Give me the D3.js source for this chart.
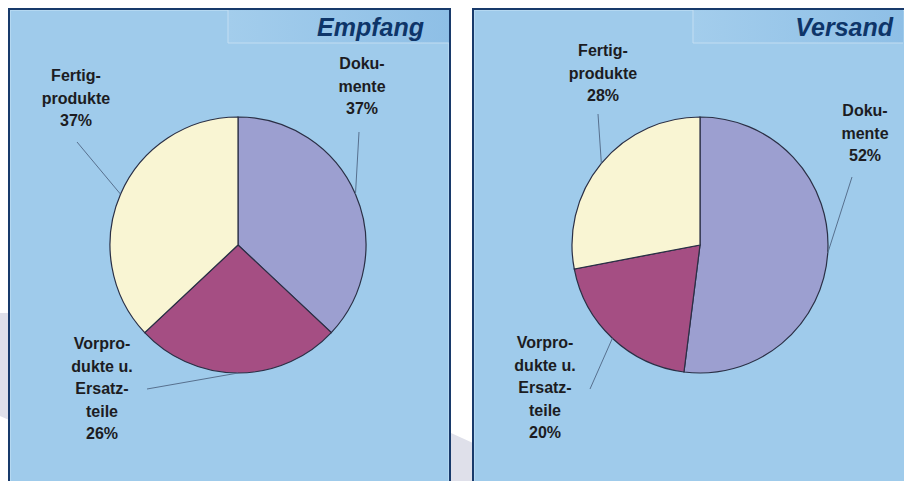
<!DOCTYPE html>
<meta charset="utf-8">
<style>
body { margin: 0; background: #fff; overflow: hidden; }
svg { display: block; }
text { font-family: "Liberation Sans", Arial, sans-serif; }
.label { font-size: 16px; font-weight: bold; fill: #1c1c22; }
.title { font-size: 25px; font-weight: bold; font-style: italic; fill: #0e3569; }
.leader { stroke: #57708e; stroke-width: 1; fill: none; }
.slice { stroke: #2a2f45; stroke-width: 1.2; }
</style>
<body>
<div id="chart"></div>
<script src="https://d3js.org/d3.v7.min.js"></script>
<script>

// data
const categories = ["Dokumente", "Vorprodukte u. Ersatzteile", "Fertigprodukte"];
const labelLines = [["Doku-", "mente"], ["Vorpro-", "dukte u.", "Ersatz-", "teile"], ["Fertig-", "produkte"]];
const titles = ["Empfang", "Versand"];
const empfangValues = [37, 26, 37];
const versandValues = [52, 20, 28];
const colors = ["#9c9fd0", "#a54e83", "#f9f5d3"];

// layout of the two panels (label offsets are relative to the pie centre)
const panels = [
  {title: titles[0], values: empfangValues, x0: 9, x1: 450, tab: 228, cx: 238, cy: 245, titleEnd: 424,
   labels: [{dx: 124, dy: -182, lx: 121, ly: -113},
            {dx: -136, dy: 98, lx: -91, ly: 144},
            {dx: -162, dy: -170, lx: -161, ly: -103}]},
  {title: titles[1], values: versandValues, x0: 473, x1: 920, tab: 693, cx: 700, cy: 245, titleEnd: 893,
   labels: [{dx: 165, dy: -135, lx: 152, ly: -68},
            {dx: -155, dy: 97, lx: -110, ly: 144},
            {dx: -97, dy: -195, lx: -102, ly: -131}]}
];

var width = 904, height = 481, radius = 128;

var svg = d3.select("#chart").append("svg")
    .attr("width", width)
    .attr("height", height);

var defs = svg.append("defs");
var grad = defs.append("linearGradient").attr("id", "tabGrad");
grad.append("stop").attr("offset", "0%").attr("stop-color", "#a3cdec");
grad.append("stop").attr("offset", "100%").attr("stop-color", "#8ebfe6");

// faint grey background shape
svg.append("path")
    .attr("d", "M0,313 L9,313 L9,420 L0,416 Z M451,433 L473,443 L473,481 L451,481 Z")
    .attr("fill", "#dfe0ea");

var pie = d3.pie().sort(null).value(d => d);
var arc = d3.arc().innerRadius(0).outerRadius(radius);
var edge = d3.arc().innerRadius(radius).outerRadius(radius);

panels.forEach(function(p) {
  var g = svg.append("g");

  // panel box
  g.append("rect")
      .attr("x", p.x0).attr("y", 9)
      .attr("width", p.x1 - p.x0).attr("height", height)
      .attr("fill", "#9fcbeb")
      .attr("stroke", "#183a6b")
      .attr("stroke-width", 2);
  g.append("rect")
      .attr("x", p.x0 + 1.5).attr("y", 10.5)
      .attr("width", p.x1 - p.x0 - 3).attr("height", height)
      .attr("fill", "none")
      .attr("stroke", "#b4d8f1")
      .attr("stroke-width", 1);

  // title tab
  g.append("rect")
      .attr("x", p.tab).attr("y", 10)
      .attr("width", Math.min(p.x1, width) - p.tab - 1).attr("height", 33)
      .attr("fill", "url(#tabGrad)");
  g.append("path")
      .attr("d", `M${p.tab},10 V43 H${Math.min(p.x1, width) - 1}`)
      .attr("fill", "none")
      .attr("stroke", "#c3def2")
      .attr("stroke-width", 1);
  g.append("text")
      .attr("class", "title")
      .attr("x", p.titleEnd).attr("y", 36)
      .attr("text-anchor", "end")
      .text(p.title);

  // pie
  var arcs = pie(p.values);
  var pg = g.append("g").attr("transform", `translate(${p.cx},${p.cy})`);

  pg.selectAll("path.slice")
    .data(arcs)
    .enter().append("path")
      .attr("class", "slice")
      .attr("d", arc)
      .attr("fill", (d, i) => colors[i]);

  // leader lines
  pg.selectAll("line.leader")
    .data(arcs)
    .enter().append("line")
      .attr("class", "leader")
      .attr("x1", (d, i) => p.labels[i].lx)
      .attr("y1", (d, i) => p.labels[i].ly)
      .attr("x2", d => edge.centroid(d)[0])
      .attr("y2", d => edge.centroid(d)[1]);

  // labels
  arcs.forEach(function(d, i) {
    var lines = labelLines[i].concat([d.data + "%"]);
    var t = pg.append("text")
        .attr("class", "label")
        .attr("text-anchor", "middle");
    lines.forEach(function(s, k) {
      t.append("tspan")
          .attr("x", p.labels[i].dx)
          .attr("y", p.labels[i].dy + 6 + k * 22.5)
          .text(s);
    });
  });
});

</script>
</body>
